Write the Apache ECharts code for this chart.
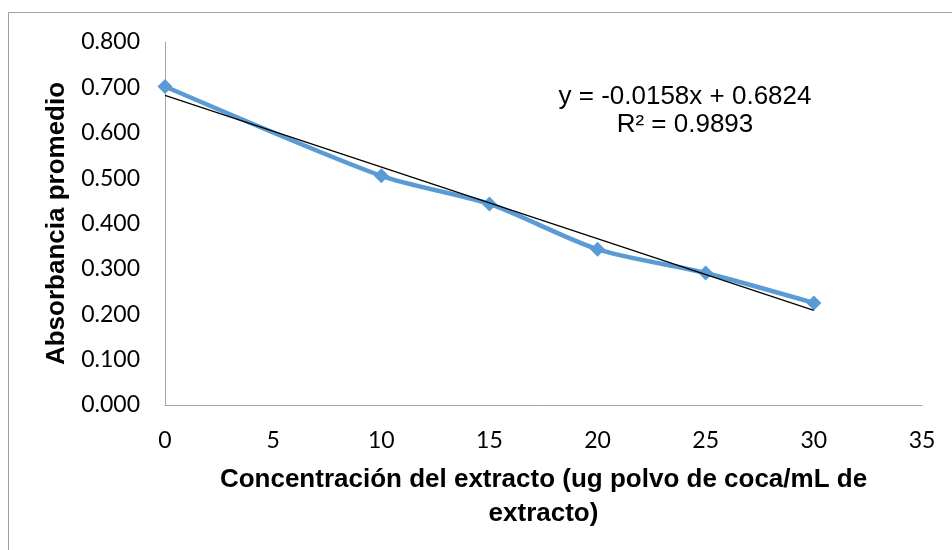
<!DOCTYPE html>
<html>
<head>
<meta charset="utf-8">
<script src="https://cdn.jsdelivr.net/npm/echarts@6/dist/echarts.min.js"></script>
<style>
  html, body { margin: 0; padding: 0; background: #fff; }
  #chart { width: 952px; height: 550px; }
</style>
</head>
<body>
<div id="chart"></div>
<script>
// Concentración del extracto vs absorbancia promedio
const concentracion = [0, 10, 15, 20, 25, 30];
const absorbancia = [0.702, 0.505, 0.443, 0.343, 0.291, 0.225];
const xTicks = [0, 5, 10, 15, 20, 25, 30, 35];
const yTicks = [0.0, 0.1, 0.2, 0.3, 0.4, 0.5, 0.6, 0.7, 0.8];

// Linear trend line coefficients (y = m x + b)
const pendiente = -0.0158;
const intercepto = 0.6824;
const r2 = 0.9893;

const trendX = [concentracion[0], concentracion[concentracion.length - 1]];
const trendPoints = trendX.map(x => [x, pendiente * x + intercepto]);

const chart = echarts.init(document.getElementById('chart'), null, { renderer: 'canvas' });

const tickFont = 'Lato, Carlito, Calibri, sans-serif';
const boldFont = '"Liberation Sans", Arial, sans-serif';

chart.setOption({
  animation: false,
  backgroundColor: '#ffffff',
  grid: { left: 165, right: 30, top: 42, bottom: 145, containLabel: false },
  xAxis: {
    type: 'value',
    min: xTicks[0],
    max: xTicks[xTicks.length - 1],
    interval: 5,
    axisLine: { show: true, lineStyle: { color: '#a6a6a6', width: 1 } },
    axisTick: { show: false },
    splitLine: { show: false },
    axisLabel: { color: '#000', fontFamily: tickFont, fontSize: 23, margin: 24 },
    name: 'Concentración del extracto (ug polvo de coca/mL de\nextracto)',
    nameLocation: 'middle',
    nameGap: 58,
    nameTextStyle: { color: '#000', fontFamily: boldFont, fontWeight: 'bold', fontSize: 26, lineHeight: 34, verticalAlign: 'top' }
  },
  yAxis: {
    type: 'value',
    min: yTicks[0],
    max: yTicks[yTicks.length - 1],
    interval: 0.1,
    axisLine: { show: true, lineStyle: { color: '#a6a6a6', width: 1 } },
    axisTick: { show: false },
    splitLine: { show: false },
    axisLabel: {
      color: '#000', fontFamily: tickFont, fontSize: 23, margin: 25,
      formatter: v => v.toFixed(3)
    },
    name: 'Absorbancia promedio',
    nameLocation: 'middle',
    nameGap: 91,
    nameTextStyle: { color: '#000', fontFamily: boldFont, fontWeight: 'bold', fontSize: 26 }
  },
  graphic: [
    {
      type: 'rect',
      shape: { x: 8.5, y: 12.5, width: 1000, height: 600 },
      style: { fill: 'none', stroke: '#a0a0a0', lineWidth: 1 },
      silent: true
    },
    {
      type: 'text',
      x: 685, y: 97,
      style: {
        text: 'y = -0.0158x + 0.6824',
        align: 'center', verticalAlign: 'middle',
        fill: '#000', font: '26px "Liberation Sans", Arial, sans-serif'
      }
    },
    {
      type: 'text',
      x: 685, y: 125,
      style: {
        text: 'R² = ' + r2.toFixed(4),
        align: 'center', verticalAlign: 'middle',
        fill: '#000', font: '26px "Liberation Sans", Arial, sans-serif'
      }
    }
  ],
  series: [
    {
      name: 'Absorbancia',
      type: 'line',
      data: concentracion.map((x, i) => [x, absorbancia[i]]),
      smooth: 0.25,
      symbol: 'diamond',
      symbolSize: 15,
      lineStyle: { color: '#5b9bd5', width: 4.5 },
      itemStyle: { color: '#5b9bd5' },
      z: 2
    },
    {
      name: 'Lineal',
      type: 'line',
      data: trendPoints,
      symbol: 'none',
      lineStyle: { color: '#000', width: 1.2 },
      z: 3
    }
  ]
});
</script>
</body>
</html>
